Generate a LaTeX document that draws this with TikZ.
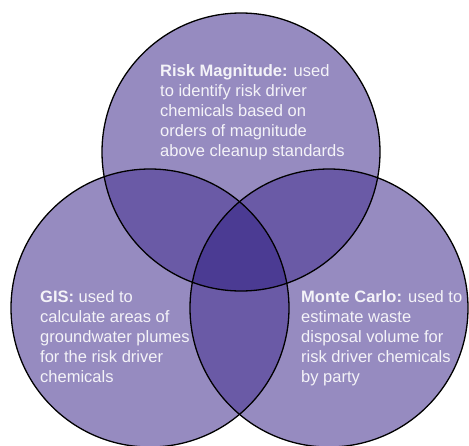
\documentclass[tikz,border=0pt]{standalone}
\usepackage{fontspec}
\setmainfont{Liberation Sans}
\definecolor{oneset}{RGB}{150,139,192}
\definecolor{twoset}{RGB}{106,90,166}
\definecolor{threeset}{RGB}{75,59,147}
\definecolor{labeltext}{RGB}{244,243,248}
\begin{document}
\begin{tikzpicture}[x=1pt,y=-1pt,
  ring/.style={draw=black,line width=1.3pt},
  blurb/.style={anchor=north west,inner sep=0pt,align=left,text=labeltext,
    font=\fontsize{16.5}{20}\selectfont}]
\useasboundingbox (0,0) rectangle (469,445);
\def\rad{139pt}
\coordinate (T) at (241,152);
\coordinate (L) at (150,308);
\coordinate (R) at (329,308);
% single-set areas
\fill[oneset] (T) circle[radius=\rad] (L) circle[radius=\rad] (R) circle[radius=\rad];
% pairwise overlaps
\begin{scope}
  \clip (T) circle[radius=\rad];
  \fill[twoset] (L) circle[radius=\rad] (R) circle[radius=\rad];
\end{scope}
\begin{scope}
  \clip (L) circle[radius=\rad];
  \fill[twoset] (R) circle[radius=\rad];
\end{scope}
% centre overlap
\begin{scope}
  \clip (T) circle[radius=\rad];
  \clip (L) circle[radius=\rad];
  \fill[threeset] (R) circle[radius=\rad];
\end{scope}
% outlines
\draw[ring] (T) circle[radius=\rad];
\draw[ring] (L) circle[radius=\rad];
\draw[ring] (R) circle[radius=\rad];
% labels
\node[blurb] (risk) at (160,64) {\textbf{Risk Magnitude:} used\\to identify risk driver\\chemicals based on\\orders of magnitude\\above cleanup standards};
\node[blurb] (gis) at (40,290) {\textbf{GIS:} used to\\calculate areas of\\groundwater plumes\\for the risk driver\\chemicals};
\node[blurb] (monte) at (301,290) {\textbf{Monte Carlo:} used to\\estimate waste\\disposal volume for\\risk driver chemicals\\by party};
\end{tikzpicture}
\end{document}
